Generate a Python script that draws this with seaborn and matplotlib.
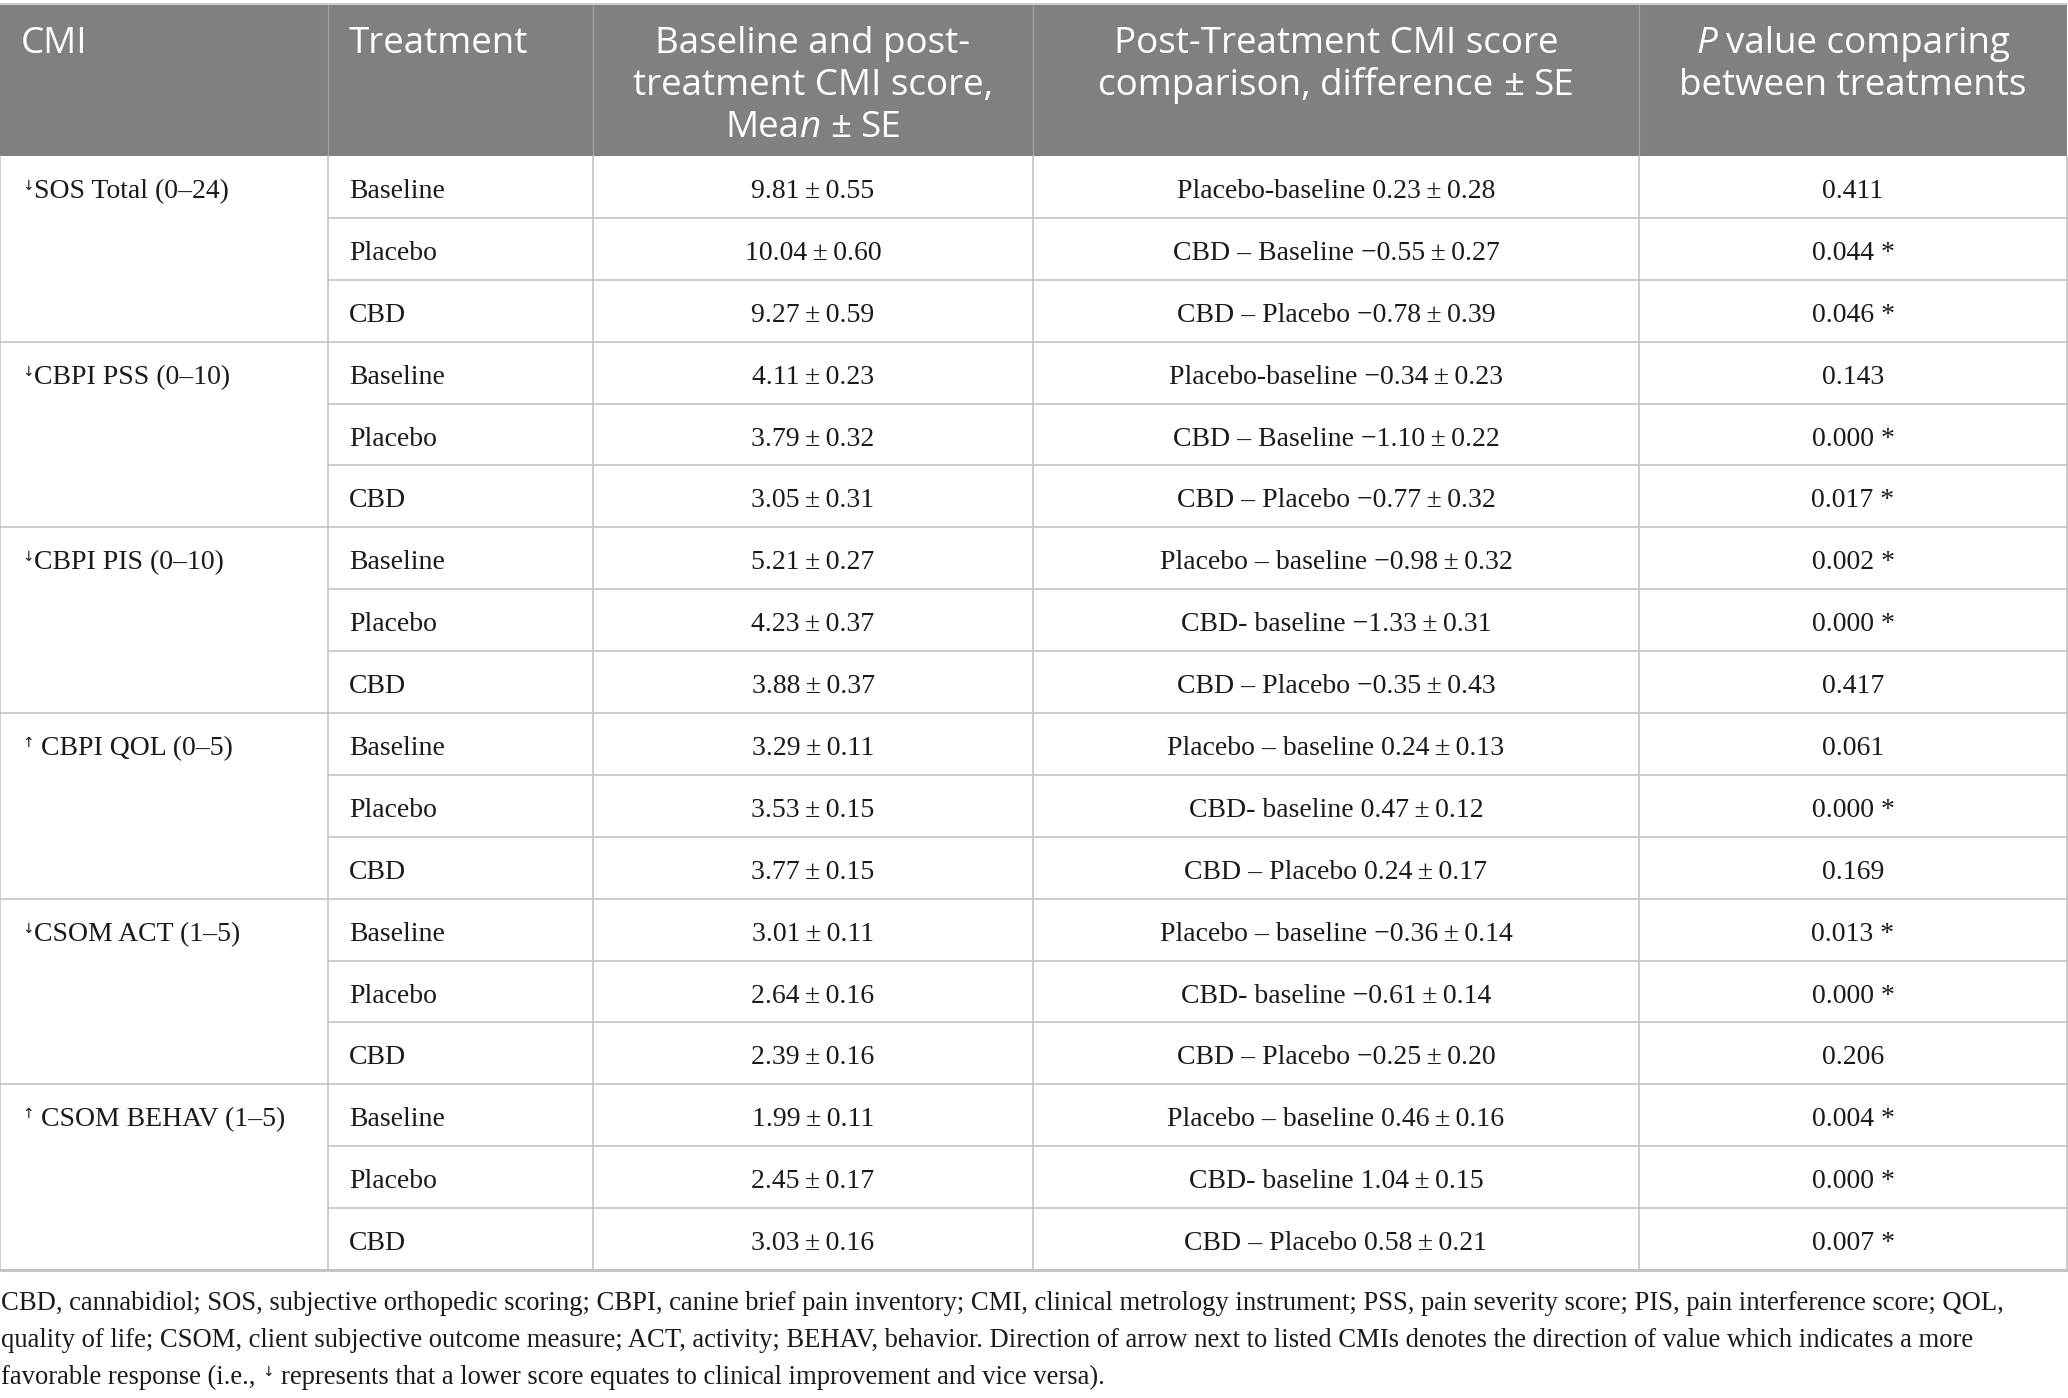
import matplotlib
matplotlib.use("Agg")
import matplotlib.pyplot as plt
import seaborn as sns

# ---- table data ----
cmi_names = ["SOS Total (0–24)", "CBPI PSS (0–10)", "CBPI PIS (0–10)",
             "CBPI QOL (0–5)", "CSOM ACT (1–5)", "CSOM BEHAV (1–5)"]
cmi_arrows = ["↓", "↓", "↓", "↑", "↓", "↑"]
arrow_gap = [0, 0, 0, 7, 0, 7]
treatments = ["Baseline", "Placebo", "CBD"]

mean_scores = [9.81, 10.04, 9.27, 4.11, 3.79, 3.05, 5.21, 4.23, 3.88,
               3.29, 3.53, 3.77, 3.01, 2.64, 2.39, 1.99, 2.45, 3.03]
mean_se = [0.55, 0.60, 0.59, 0.23, 0.32, 0.31, 0.27, 0.37, 0.37,
           0.11, 0.15, 0.15, 0.11, 0.16, 0.16, 0.11, 0.17, 0.16]

comparison_labels = [
    "Placebo-baseline", "CBD – Baseline", "CBD – Placebo",
    "Placebo-baseline", "CBD – Baseline", "CBD – Placebo",
    "Placebo – baseline", "CBD- baseline", "CBD – Placebo",
    "Placebo – baseline", "CBD- baseline", "CBD – Placebo",
    "Placebo – baseline", "CBD- baseline", "CBD – Placebo",
    "Placebo – baseline", "CBD- baseline", "CBD – Placebo",
]
diff_values = [0.23, -0.55, -0.78, -0.34, -1.10, -0.77, -0.98, -1.33, -0.35,
               0.24, 0.47, 0.24, -0.36, -0.61, -0.25, 0.46, 1.04, 0.58]
diff_se = [0.28, 0.27, 0.39, 0.23, 0.22, 0.32, 0.32, 0.31, 0.43,
           0.13, 0.12, 0.17, 0.14, 0.14, 0.20, 0.16, 0.15, 0.21]
p_values = [0.411, 0.044, 0.046, 0.143, 0.000, 0.017, 0.002, 0.000, 0.417,
            0.061, 0.000, 0.169, 0.013, 0.000, 0.206, 0.004, 0.000, 0.007]

footnote_1 = ("CBD, cannabidiol; SOS, subjective orthopedic scoring; CBPI, canine brief pain inventory; "
              "CMI, clinical metrology instrument; PSS, pain severity score; PIS, pain interference score; QOL,")
footnote_2 = ("quality of life; CSOM, client subjective outcome measure; ACT, activity; BEHAV, behavior. "
              "Direction of arrow next to listed CMIs denotes the direction of value which indicates a more")
footnote_3a = "favorable response (i.e.,"
footnote_3b = "represents that a lower score equates to clinical improvement and vice versa)."

# ---- style ----
sns.set_theme(style="white")
plt.rcParams["font.family"] = ["Liberation Serif", "DejaVu Serif"]

HEAD_FONT = ["Open Sans", "DejaVu Sans"]
BODY_FONT = ["Liberation Serif", "DejaVu Serif"]
HEAD_SIZE = 26.5
BODY_SIZE = 20
HEAD_BG = "#808080"
GRID = "#c4c4c4"

W, H = 2068, 1398
col_edges = [0, 328, 593, 1033, 1639, 2067]
header_top, header_bottom = 5, 156
row_h = (1270 - header_bottom) / 18
pad = 21

fig = plt.figure(figsize=(W / 100, H / 100), dpi=100)
ax = fig.add_axes([0, 0, 1, 1])
ax.set_xlim(0, W)
ax.set_ylim(H, 0)
ax.axis("off")
renderer = fig.canvas.get_renderer()


def fmt(v):
    s = f"{abs(v):.2f}"
    return ("−" + s) if v < 0 else s


def draw_runs(x, y, runs, ha="left"):
    """runs: list of (text, kwargs, gap_after, dy)"""
    cur = x
    objs = []
    for s, kw, gap, dy in runs:
        t = ax.text(cur, y - dy, s, ha="left", va="baseline", **kw)
        w = t.get_window_extent(renderer=renderer).width
        objs.append(t)
        cur += w + gap
    if ha == "center":
        shift = (cur - x) / 2
        for t in objs:
            px, py = t.get_position()
            t.set_position((px - shift, py))


# header background
ax.fill_between([col_edges[0], col_edges[-1]], header_top, header_bottom,
                color=HEAD_BG, lw=0, zorder=0)
ax.plot([0, W - 1], [header_top - 1, header_top - 1], color=GRID, lw=1.2)
for xe in col_edges[1:-1]:
    ax.plot([xe, xe], [header_top, header_bottom], color="#a3a3a3", lw=1.0)

head = dict(family=HEAD_FONT, fontsize=HEAD_SIZE, color="white")
head_it = dict(head, style="italic")
base = [53, 95, 137]

ax.text(pad, base[0], "CMI", ha="left", va="baseline", **head)
ax.text(col_edges[1] + pad, base[0], "Treatment", ha="left", va="baseline", **head)

c3 = (col_edges[2] + col_edges[3]) / 2
ax.text(c3, base[0], "Baseline and post-", ha="center", va="baseline", **head)
ax.text(c3, base[1], "treatment CMI score,", ha="center", va="baseline", **head)
draw_runs(c3, base[2], [("Mea", head, 0, 0), ("n", head_it, 9, 0),
                        ("±", head, 9, 0), ("SE", head, 0, 0)], ha="center")

c4 = (col_edges[3] + col_edges[4]) / 2
ax.text(c4, base[0], "Post-Treatment CMI score", ha="center", va="baseline", **head)
draw_runs(c4, base[1], [("comparison, difference", head, 9, 0),
                        ("±", head, 9, 0), ("SE", head, 0, 0)], ha="center")

c5 = (col_edges[4] + col_edges[5]) / 2
draw_runs(c5, base[0], [("P", head_it, 9, 0), ("value comparing", head, 0, 0)],
          ha="center")
ax.text(c5, base[1], "between treatments", ha="center", va="baseline", **head)

# body
body = dict(family=BODY_FONT, fontsize=BODY_SIZE, color="#1a1a1a")
arrow_kw = dict(family=["DejaVu Sans"], fontsize=10, color="#1a1a1a")

for i in range(18):
    top = header_bottom + i * row_h
    bl = top + 42
    g, k = divmod(i, 3)
    if k == 0:
        draw_runs(pad + 1, bl, [(cmi_arrows[g], arrow_kw, arrow_gap[g], 8),
                                (cmi_names[g], body, 0, 0)])
    ax.text(col_edges[1] + pad, bl, treatments[k], ha="left", va="baseline", **body)
    ax.text(c3, bl, f"{fmt(mean_scores[i])}\u2009±\u2009{fmt(mean_se[i])}",
            ha="center", va="baseline", **body)
    ax.text(c4, bl, f"{comparison_labels[i]} {fmt(diff_values[i])}\u2009±\u2009{fmt(diff_se[i])}",
            ha="center", va="baseline", **body)
    star = " *" if p_values[i] < 0.05 else ""
    ax.text(c5, bl, f"{p_values[i]:.3f}{star}", ha="center", va="baseline", **body)

    # horizontal line under the row
    y_line = top + row_h
    x0 = 0 if k == 2 else col_edges[1]
    lw = 2.2 if i == 17 else 1.2
    ax.plot([x0, W - 1], [y_line, y_line], color=GRID, lw=lw)

# vertical body lines
table_bottom = header_bottom + 18 * row_h
for xe in col_edges:
    xx = min(xe, W - 1)
    ax.plot([xx, xx], [header_bottom, table_bottom], color=GRID, lw=1.2)

# footnote, sized so the first line spans the same width as in the source
foot = dict(family=BODY_FONT, fontsize=BODY_SIZE, color="#1a1a1a")
t1 = ax.text(1, 1310, footnote_1, ha="left", va="baseline", **foot)
fit = 2005 / t1.get_window_extent(renderer=renderer).width
foot["fontsize"] = BODY_SIZE * min(fit, 1.0)
t1.set_fontsize(foot["fontsize"])
ax.text(1, 1347, footnote_2, ha="left", va="baseline", **foot)
draw_runs(1, 1384, [(footnote_3a, foot, 7, 0), ("↓", arrow_kw, 7, 8),
                    (footnote_3b, foot, 0, 0)])

fig.savefig("out.png", dpi=100)
